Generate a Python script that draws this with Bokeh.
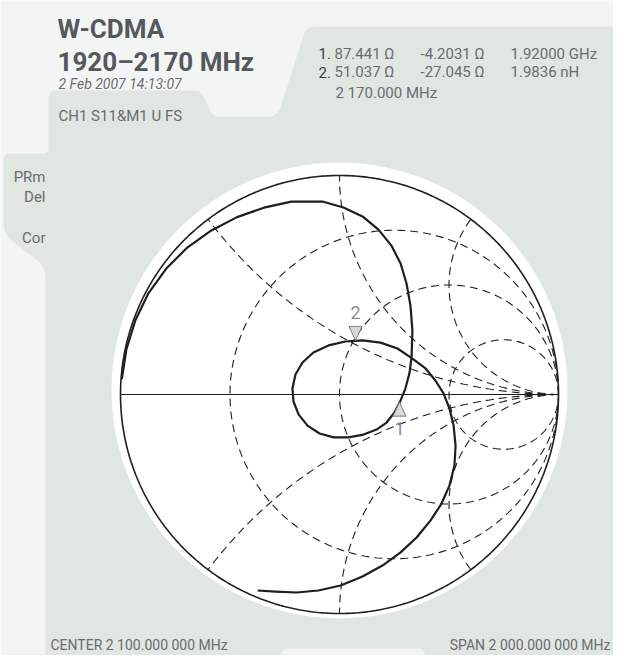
import numpy as np
from bokeh.plotting import figure
from bokeh.models import Range1d
from bokeh.embed import file_html
from bokeh.resources import INLINE
from bokeh.core.properties import value

# ---------------- data ----------------
title_lines = ["W-CDMA", "1920\u20132170 MHz"]
timestamp = "2 Feb 2007 14:13:07"
channel_label = "CH1 S11&M1 U FS"
side_labels = ["PRm", "Del", "Cor"]
readout_ids = ["1.", "2."]
readout_real = ["87.441 \u03a9", "51.037 \u03a9"]
readout_imag = ["-4.2031 \u03a9", "-27.045 \u03a9"]
readout_extra = ["1.92000 GHz", "1.9836 nH"]
readout_freq = "2 170.000 MHz"
footer_left = "CENTER 2 100.000 000 MHz"
footer_right = "SPAN 2 000.000 000 MHz"

resistance_circles = [1 / 3, 1.0, 3.0]
reactance_arcs = [0.5, 1.0, 2.0, -0.5, -1.0, -2.0]

trace_re = [-0.994, -0.973, -0.932, -0.872, -0.791, -0.695, -0.585, -0.468,
            -0.345, -0.220, -0.078, 0.018, 0.105, 0.178, 0.237, 0.279, 0.306,
            0.324, 0.333, 0.329, 0.320, 0.301, 0.279, 0.251, 0.215, 0.169,
            0.110, 0.041, -0.027, -0.091, -0.146, -0.187, -0.210, -0.215,
            -0.201, -0.169, -0.119, -0.050, 0.027, 0.105, 0.187, 0.265, 0.333,
            0.393, 0.438, 0.475, 0.502, 0.521, 0.530, 0.525, 0.502, 0.466,
            0.416, 0.352, 0.279, 0.196, 0.105, 0.005, -0.096, -0.196, -0.292,
            -0.374]
trace_im = [0.070, 0.207, 0.339, 0.463, 0.575, 0.671, 0.749, 0.810, 0.853,
            0.881, 0.881, 0.854, 0.813, 0.753, 0.680, 0.598, 0.507, 0.406,
            0.292, 0.169, 0.100, 0.027, -0.027, -0.082, -0.128, -0.160, -0.183,
            -0.196, -0.196, -0.178, -0.142, -0.091, -0.032, 0.027, 0.091,
            0.146, 0.192, 0.224, 0.242, 0.247, 0.237, 0.210, 0.164, 0.119,
            0.064, 0.005, -0.064, -0.142, -0.233, -0.324, -0.416, -0.498,
            -0.575, -0.653, -0.721, -0.781, -0.831, -0.872, -0.895, -0.904,
            -0.900, -0.895]

marker_ids = ["1", "2"]
marker_re = [0.274, 0.073]
marker_im = [-0.035, 0.247]
marker_pointing = ["up", "down"]

# ---------------- layout / style ----------------
CX, CY, S = 339.0, 394.0, 219.0   # chart centre (px) and px per unit
W, H = 613, 655
BG = "#f3f5f4"
PANEL = "#e0e6e2"
INK = "#1e1e1e"
TXT = "#6a6d70"
FONT = "Roboto"


def X(px):
    return (px - CX) / S


def Y(py):
    return (CY - py) / S


def rounded(pts, radii):
    out = []
    n = len(pts)
    for i in range(n):
        p0 = np.array(pts[i - 1], float)
        p1 = np.array(pts[i], float)
        p2 = np.array(pts[(i + 1) % n], float)
        r = radii[i]
        if r <= 0:
            out.append(p1)
            continue
        d1 = p0 - p1
        d2 = p2 - p1
        l1 = np.hypot(*d1)
        l2 = np.hypot(*d2)
        a = p1 + d1 / l1 * min(r, l1 / 2)
        b = p1 + d2 / l2 * min(r, l2 / 2)
        for t in np.linspace(0, 1, 10):
            out.append((1 - t) ** 2 * a + 2 * (1 - t) * t * p1 + t ** 2 * b)
    return out


p = figure(width=W, height=H, x_range=Range1d(X(0), X(W)),
           y_range=Range1d(Y(H), Y(0)), output_backend="svg",
           toolbar_location=None, min_border=0)
p.axis.visible = False
p.grid.visible = False
p.outline_line_color = None
p.background_fill_color = BG
p.border_fill_color = BG

# panel
panel_pts = [(48, 90), (200, 90), (213, 116), (277, 116), (306, 26), (628, 26),
             (628, 690), (440, 690), (422, 648), (283, 648), (265, 690), (45, 690),
             (45, 266), (3, 234), (3, 153), (48, 153)]
panel_r = [8, 5, 5, 10, 9, 12, 0, 0, 5, 5, 0, 0, 12, 12, 7, 6]
pp = rounded(panel_pts, panel_r)
p.patch([X(q[0]) for q in pp], [Y(q[1]) for q in pp], fill_color=PANEL,
        line_color=None)

# white disc
p.circle(x=[X(339)], y=[Y(390)], radius=228 / S, fill_color="white",
         line_color=None)

# grid: constant resistance circles
for r in resistance_circles:
    t = np.linspace(0, 2 * np.pi, 400)
    c = r / (1 + r)
    rad = 1 / (1 + r)
    p.line(c + rad * np.cos(t), rad * np.sin(t), line_color=INK, line_width=1.1,
           line_dash="8 5")

# grid: constant reactance arcs
for xv in reactance_arcs:
    cy = 1 / xv
    rad = abs(1 / xv)
    th1 = np.arctan2(0 - cy, 0)
    ex = (xv ** 2 - 1) / (xv ** 2 + 1)
    ey = 2 * xv / (xv ** 2 + 1)
    th2 = np.arctan2(ey - cy, ex - 1)
    d = (th2 - th1 + np.pi) % (2 * np.pi) - np.pi
    t = np.linspace(th1, th1 + d, 300)
    p.line(1 + rad * np.cos(t), cy + rad * np.sin(t), line_color=INK,
           line_width=1.1, line_dash="8 5")

# outer circle and real axis
t = np.linspace(0, 2 * np.pi, 600)
p.line(np.cos(t), np.sin(t), line_color=INK, line_width=1.6)
p.line([-1, 1], [0, 0], line_color=INK, line_width=1.2)

# trace
p.line(trace_re, trace_im, line_color=INK, line_width=2.2, line_join="round")

# markers
tri_x, tri_y, lab_x, lab_y = [], [], [], []
for mid, mx, my, pt in zip(marker_ids, marker_re, marker_im, marker_pointing):
    hw, hh = 6.5 / S, 14 / S
    if pt == "up":
        tri_x.append([mx, mx - hw, mx + hw])
        tri_y.append([my, my - hh, my - hh])
        lab_x.append(mx)
        lab_y.append(my - 26 / S)
    else:
        tri_x.append([mx, mx - hw, mx + hw])
        tri_y.append([my, my + hh, my + hh])
        lab_x.append(mx)
        lab_y.append(my + 28 / S)
p.patches(tri_x, tri_y, fill_color="#d8dada", line_color="#7d8082",
          line_width=1)
p.text(lab_x, lab_y, text=marker_ids, text_font=value(FONT),
       text_font_size="18px", text_color="#8a8d90", text_align="center",
       text_baseline="middle")

# texts
def txt(px, py, s, size, color=TXT, align="left", style="normal"):
    p.text([X(px)], [Y(py)], text=[s], text_font=value(FONT),
           text_font_size=size, text_color=color, text_align=align,
           text_baseline="alphabetic", text_font_style=style)

txt(57, 28, title_lines[0], "26px", "#55585c", style="bold")
txt(57, 61, title_lines[1], "26px", "#55585c", style="bold")
txt(58, 83, timestamp, "14px", TXT, style="italic")
txt(58, 115, channel_label, "15px", TXT)

for i, lab in enumerate(side_labels):
    ys = [176, 196, 237][i]
    txt(45, ys, lab, "15px", TXT, align="right")

row_y = [53, 71.5]
for i in range(2):
    txt(318, row_y[i], readout_ids[i], "15px", "#3c3e40")
    txt(334, row_y[i], readout_real[i], "15px", TXT)
    txt(420, row_y[i], readout_imag[i], "15px", TXT)
    txt(510, row_y[i], readout_extra[i], "15px", TXT)
txt(335, 92, readout_freq, "15px", TXT)

txt(50, 644, footer_left, "14px", TXT)
txt(610, 644, footer_right, "14px", TXT, align="right")

open("out.html", "w").write(file_html(p, INLINE))
